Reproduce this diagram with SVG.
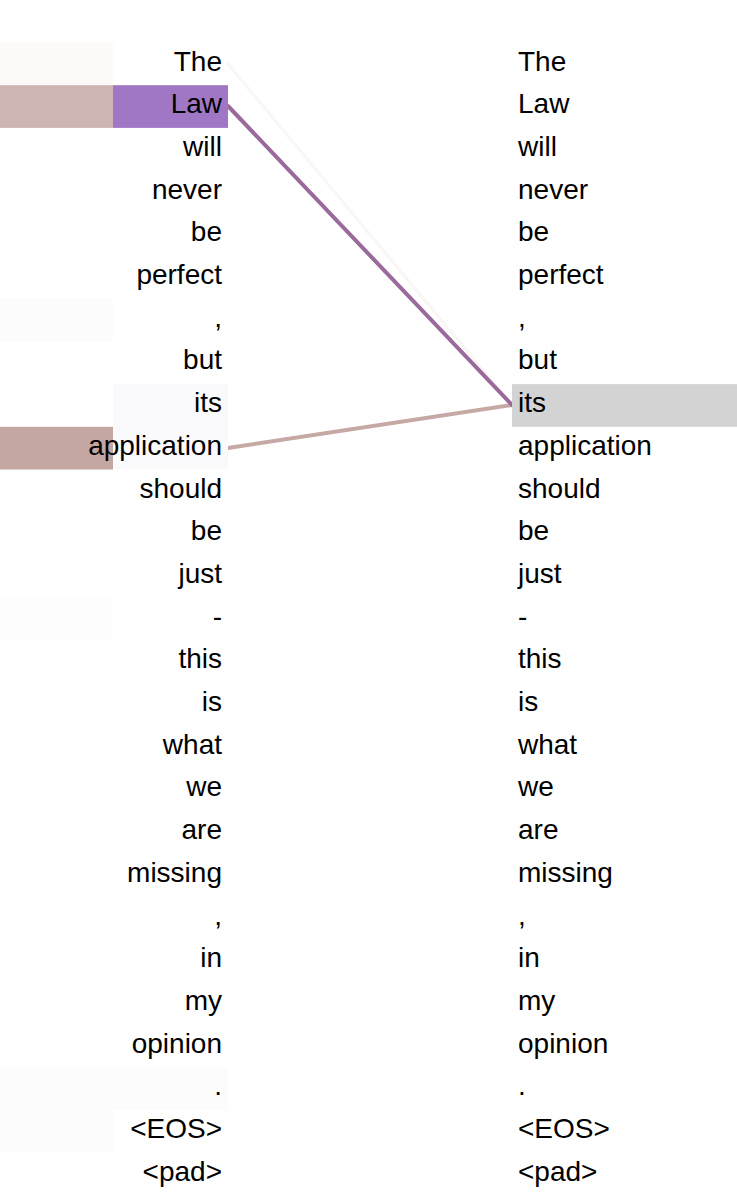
<svg xmlns="http://www.w3.org/2000/svg" width="737" height="1196" viewBox="0 0 737 1196">
<style>
text{font-family:"Liberation Sans",Arial,sans-serif;font-size:28px;fill:#000}
.l{text-anchor:end}
.r{text-anchor:start}
</style>
<rect width="737" height="1196" fill="#fff"/>
<g id="blocks">
<rect x="0" y="42.5" width="113" height="42.7" fill="#fdfbfa"/>
<rect x="0" y="85.2" width="113" height="42.7" fill="#cdb6b1"/>
<rect x="0" y="298.7" width="113" height="42.7" fill="#fcfcfc"/>
<rect x="0" y="426.8" width="113" height="42.7" fill="#c4a6a2"/>
<rect x="0" y="597.6" width="113" height="42.7" fill="#fdfdfd"/>
<rect x="0" y="1067.3" width="113" height="42.7" fill="#fcfcfc"/>
<rect x="0" y="1110" width="113" height="42.7" fill="#fcfcfc"/>
</g>
<g id="connectors" fill="none" stroke-linecap="round">
<line x1="228" y1="64" x2="512" y2="405" stroke="#f9f6f4" stroke-width="3"/>
<line x1="228" y1="448" x2="512" y2="405" stroke="#c6a8a4" stroke-width="4"/>
<line x1="228" y1="106" x2="512" y2="405" stroke="#9a6a9c" stroke-width="4"/>
</g>
<g id="left-tokens">
<rect x="113" y="85.2" width="115" height="42.7" fill="#a077c4"/>
<rect x="113" y="384.1" width="115" height="42.7" fill="#fafafc"/>
<rect x="113" y="426.8" width="115" height="42.7" fill="#fafafc"/>
<rect x="113" y="1067.3" width="115" height="42.7" fill="#fcfcfc"/>
<text class="l" x="222" y="70.5">The</text>
<text class="l" x="222" y="113.2">Law</text>
<text class="l" x="222" y="155.9">will</text>
<text class="l" x="222" y="198.6">never</text>
<text class="l" x="222" y="241.3">be</text>
<text class="l" x="222" y="284">perfect</text>
<text class="l" x="222" y="326.7">,</text>
<text class="l" x="222" y="369.4">but</text>
<text class="l" x="222" y="412.1">its</text>
<text class="l" x="222" y="454.8">application</text>
<text class="l" x="222" y="497.5">should</text>
<text class="l" x="222" y="540.2">be</text>
<text class="l" x="222" y="582.9">just</text>
<text class="l" x="222" y="625.6">-</text>
<text class="l" x="222" y="668.3">this</text>
<text class="l" x="222" y="711">is</text>
<text class="l" x="222" y="753.7">what</text>
<text class="l" x="222" y="796.4">we</text>
<text class="l" x="222" y="839.1">are</text>
<text class="l" x="222" y="881.8">missing</text>
<text class="l" x="222" y="924.5">,</text>
<text class="l" x="222" y="967.2">in</text>
<text class="l" x="222" y="1009.9">my</text>
<text class="l" x="222" y="1052.6">opinion</text>
<text class="l" x="222" y="1095.3">.</text>
<text class="l" x="222" y="1138">&lt;EOS&gt;</text>
<text class="l" x="222" y="1180.7">&lt;pad&gt;</text>
</g>
<g id="right-tokens">
<rect x="512" y="384.1" width="225" height="42.7" fill="#d3d3d3"/>
<text class="r" x="518" y="70.5">The</text>
<text class="r" x="518" y="113.2">Law</text>
<text class="r" x="518" y="155.9">will</text>
<text class="r" x="518" y="198.6">never</text>
<text class="r" x="518" y="241.3">be</text>
<text class="r" x="518" y="284">perfect</text>
<text class="r" x="518" y="326.7">,</text>
<text class="r" x="518" y="369.4">but</text>
<text class="r" x="518" y="412.1">its</text>
<text class="r" x="518" y="454.8">application</text>
<text class="r" x="518" y="497.5">should</text>
<text class="r" x="518" y="540.2">be</text>
<text class="r" x="518" y="582.9">just</text>
<text class="r" x="518" y="625.6">-</text>
<text class="r" x="518" y="668.3">this</text>
<text class="r" x="518" y="711">is</text>
<text class="r" x="518" y="753.7">what</text>
<text class="r" x="518" y="796.4">we</text>
<text class="r" x="518" y="839.1">are</text>
<text class="r" x="518" y="881.8">missing</text>
<text class="r" x="518" y="924.5">,</text>
<text class="r" x="518" y="967.2">in</text>
<text class="r" x="518" y="1009.9">my</text>
<text class="r" x="518" y="1052.6">opinion</text>
<text class="r" x="518" y="1095.3">.</text>
<text class="r" x="518" y="1138">&lt;EOS&gt;</text>
<text class="r" x="518" y="1180.7">&lt;pad&gt;</text>
</g>
</svg>
